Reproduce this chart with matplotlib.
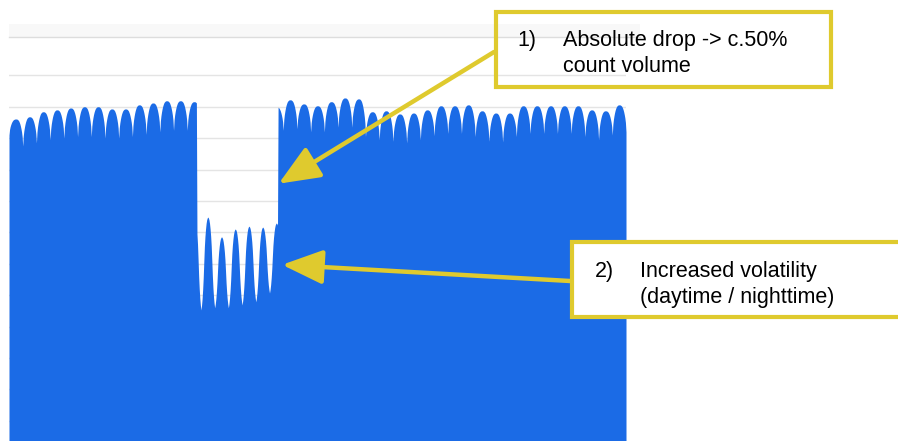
import matplotlib.pyplot as plt
from matplotlib.patches import Rectangle
from matplotlib.lines import Line2D

# Daily peaks / night troughs (count volume)
# before the drop (days 0-13), troughs are the midnights 0..14
left_peaks = [1061, 1068, 1084, 1090, 1096, 1100, 1100, 1093, 1093, 1106, 1112, 1119, 1119, 1116]
left_troughs = [1010, 975, 985, 995, 1000, 1005, 1005, 1000, 1000, 1005, 1012, 1020, 1025, 1025, 1022]

# during the drop (days 13-19), troughs are the midnights 13..20
drop_peaks = [760, 749, 686, 711, 720, 717, 730]
drop_troughs = [600, 453, 460, 460, 469, 479, 507, 500]

# after the drop (days 19-44), troughs are the midnights 19..45
right_peaks = [1100, 1122, 1109, 1103, 1116, 1128, 1125, 1084, 1087, 1077, 1080, 1090, 1103,
               1103, 1106, 1087, 1080, 1080, 1103, 1103, 1103, 1103, 1103, 1090, 1087, 1106]
right_troughs = [1020, 1025, 1030, 1020, 1020, 1035, 1035, 1005, 995, 990, 985, 995, 1008,
                 1015, 1015, 1005, 990, 988, 1005, 1015, 1015, 1015, 1015, 1005, 995, 1010, 1020]

# shape of half a day (midnight -> noon), 0 = night trough, 1 = daytime peak
normal_shape = [0.0, 0.35, 0.52, 0.64, 0.74, 0.82, 0.88, 0.93, 0.96, 0.98, 0.995, 1.0, 1.0]
drop_shape = [0.0, 0.05, 0.12, 0.22, 0.35, 0.52, 0.68, 0.79, 0.87, 0.93, 0.97, 0.99, 1.0]

n_days = 45
drop_start = 13 * 24 + 17   # hour where the volume falls
drop_end = 19 * 24 + 15     # hour where it comes back

note1 = ['1)', 'Absolute drop -> c.50%', 'count volume']
note2 = ['2)', 'Increased volatility', '(daytime / nighttime)']


def build_curve(peaks, troughs, shape):
    vals = []
    for d, p in enumerate(peaks):
        for h in range(24):
            if h <= 12:
                vals.append(troughs[d] + (p - troughs[d]) * shape[h])
            else:
                vals.append(troughs[d + 1] + (p - troughs[d + 1]) * shape[24 - h])
    return vals


left = build_curve(left_peaks, left_troughs, normal_shape)
drop = build_curve(drop_peaks, drop_troughs, drop_shape)
right = build_curve(right_peaks, right_troughs, normal_shape)

hours = list(range(n_days * 24 + 1))
values = []
for i in hours[:-1]:
    if i < drop_start:
        values.append(left[i])
    elif i < drop_end:
        values.append(drop[i - 13 * 24])
    else:
        values.append(right[i - 19 * 24])
values.append(right_troughs[-1])

blue = '#1b6be6'
yellow = '#dfca2e'
W, H = 898, 441

fig = plt.figure(figsize=(W / 100, H / 100), dpi=100)
plt.rcParams['font.family'] = ['Liberation Sans', 'DejaVu Sans']

# light header band above the plot
fig.patches.append(Rectangle((9 / W, (H - 37) / H), 631 / W, 13 / H, transform=fig.transFigure,
                             facecolor='#f8f8f8', edgecolor='none', zorder=0))
fig.lines.append(Line2D([9 / W, 640 / W], [(H - 37) / H] * 2, transform=fig.transFigure,
                        color='#dddddd', lw=1))

ax = fig.add_axes([9 / W, 0, 617 / W, (H - 37) / H])
ax.fill_between(hours, values, 0, color=blue, lw=0)
ax.set_xlim(0, n_days * 24)
ax.set_ylim(36, 1322)
ax.set_yticks(range(100, 1300, 100))
ax.set_xticks([])
ax.grid(axis='y', color='#e4e4e4', lw=1)
ax.set_axisbelow(True)
ax.tick_params(left=False, labelleft=False)
for s in ax.spines.values():
    s.set_visible(False)

# annotation boxes (figure pixels, y from top)
fig.patches.append(Rectangle((496 / W, (H - 87) / H), 335 / W, 75 / H, transform=fig.transFigure,
                             facecolor='none', edgecolor=yellow, lw=3, zorder=5))
fig.patches.append(Rectangle((572 / W, (H - 317) / H), 340 / W, 75 / H, transform=fig.transFigure,
                             facecolor='white', edgecolor=yellow, lw=3, zorder=5))

fs = 15.5
fig.text(517 / W, (H - 46) / H, note1[0], fontsize=fs, va='baseline', zorder=6)
fig.text(563 / W, (H - 46) / H, note1[1], fontsize=fs, va='baseline', zorder=6)
fig.text(563 / W, (H - 72) / H, note1[2], fontsize=fs, va='baseline', zorder=6)
fig.text(595 / W, (H - 277) / H, note2[0], fontsize=fs, va='baseline', zorder=6)
fig.text(640 / W, (H - 277) / H, note2[1], fontsize=fs, va='baseline', zorder=6)
fig.text(640 / W, (H - 303) / H, note2[2], fontsize=fs, va='baseline', zorder=6)

# arrows pointing into the chart
arrow = dict(arrowstyle='-|>,head_length=2.5,head_width=1.05', lw=3.2, color=yellow,
             mutation_scale=10, shrinkA=0, shrinkB=0)
ax.annotate('', xy=(472, 855), xycoords='data', xytext=(494, H - 52),
            textcoords='figure pixels', arrowprops=arrow, zorder=4)
ax.annotate('', xy=(478, 597), xycoords='data', xytext=(570, H - 281),
            textcoords='figure pixels', arrowprops=arrow, zorder=4)

fig.savefig('out.png', dpi=100)
